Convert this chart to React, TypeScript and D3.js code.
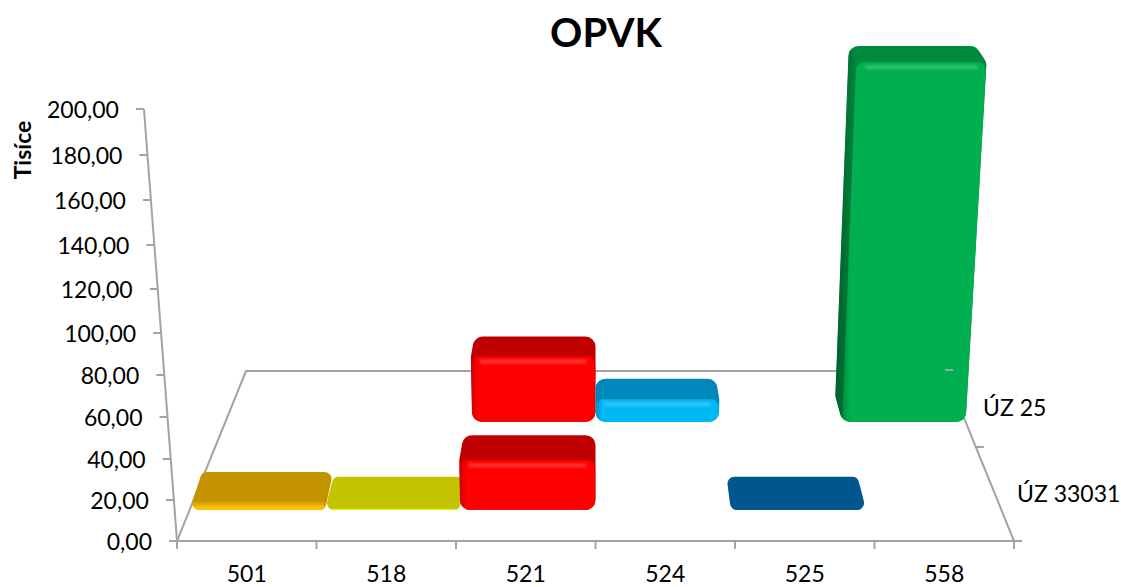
import React from 'react'
import * as d3 from 'd3'

// values in thousands
const categories = ['501', '518', '521', '524', '525', '558']
const seriesNames = ['ÚZ 33031', 'ÚZ 25']
const uz33031 = [4.5, 1, 25, null, 1, null]
const uz25 = [null, null, 36, 12.5, null, 189]
const valueTicks = [0, 20, 40, 60, 80, 100, 120, 140, 160, 180, 200]
const wallPixels = [542, 501, 460, 418, 376, 334, 290, 246, 201, 156, 110]

const front = ['#ffc000', '#e8e800', '#ff0000', '#00b8f4', '#02568f', '#00b050']
const top = ['#c49300', '#c3c300', '#c00000', '#0088bb', '#02568f', '#008a40']
const side = ['#d9a300', '#c3c300', '#c00000', '#0088bb', '#02568f', '#00602c']

const AXIS = '#a3a3a3'
const FONT = 'Lato, "Open Sans", sans-serif'
const W = 1121
const H = 587

// the fake 3d floor
const centerX = 595.5
const frontWidth = 837
const backRatio = 699 / 837
const wallY = d3.scaleLinear().domain(valueTicks).range(wallPixels)
const floorY = d3.scaleLinear().domain([0, 0.5, 1]).range([541, 447, 371])
const shrink = d3.scaleLinear().domain([541, 371]).range([1, backRatio])
const spread = d3.scaleLinear().domain([542, 110]).range([1, 1.079])
const barSpread = d3.scaleLinear().domain([542, 110]).range([1, 1.06])
const squash = d3.scaleLinear().domain([0, 10, 200]).range([1, 0.8, 0.62])
const catX = d3.scaleLinear().domain([0, categories.length]).range([-frontWidth / 2, frontWidth / 2])

type P = [number, number]

function project(c: number, d: number, v: number, sp = spread): P {
  const fy = floorY(d)
  const s = shrink(fy)
  const h = (wallY(0) - wallY(v)) * s
  return [centerX + catX(c) * s * sp(wallY(v)), fy - h]
}

// rounded polygon through d3.path
function rounded(pts: P[], r: number) {
  const p = d3.path()
  const n = pts.length
  const mid = (a: P, b: P): P => [(a[0] + b[0]) / 2, (a[1] + b[1]) / 2]
  const start = mid(pts[n - 1], pts[0])
  p.moveTo(start[0], start[1])
  pts.forEach((pt, i) => {
    const next = pts[(i + 1) % n]
    const m = mid(pt, next)
    p.arcTo(pt[0], pt[1], m[0], m[1], r)
    p.lineTo(m[0], m[1])
  })
  p.closePath()
  return p.toString()
}

function Bar({ c, row, v }: { c: number; row: number; v: number }) {
  const id = `clip${row}-${c}`
  const d1 = row * 0.5 + 0.165
  const d2 = row * 0.5 + 0.335
  const depthPx = (floorY(d1) - floorY(d2)) * squash(v)
  const fl = project(c, d1, v, barSpread)
  const fr = project(c + 1, d1, v, barSpread)
  const bl0 = project(c, d1, 0)
  const br0 = project(c + 1, d1, 0)
  const bl: P = [project(c, d2, v, barSpread)[0], fl[1] - depthPx]
  const br: P = [project(c + 1, d2, v, barSpread)[0], fr[1] - depthPx]
  const floorBackL = project(c, d2, 0)
  const h = bl0[1] - fl[1]
  const flat = h < 12
  const tall = h > 100
  const rFront = Math.min(8, h / 2)

  // only the tall bar shows its left side properly
  const outline: P[] = tall
    ? [bl, br, fr, br0, bl0, floorBackL]
    : flat
      ? [bl, br, br0, bl0]
      : [bl, br, fr, br0, bl0, fl]
  const r = flat ? 7 : 10

  return (
    <g>
      <clipPath id={id}>
        <path d={rounded(outline, r)} />
      </clipPath>
      <path d={rounded(outline, r)} fill={top[c]} />
      <g clipPath={`url(#${id})`}>
        {tall && <path d={d3.line()([bl, fl, bl0, floorBackL]) + 'Z'} fill={`url(#side${c})`} />}
        {flat ? (
          <path d={d3.line()([fl, fr, br0, bl0]) + 'Z'} fill={`url(#strip${c})`} />
        ) : (
          <path d={rounded([fl, fr, br0, bl0], rFront)} fill={`url(#front${c})`} />
        )}
        {!flat && (
          <rect
            x={fl[0] + 9}
            width={fr[0] - fl[0] - 18}
            y={fl[1] + 3}
            height={4}
            fill="#fff"
            fillOpacity={0.2}
            filter="url(#soft)"
          />
        )}
      </g>
    </g>
  )
}

export default function App() {
  const rows = [uz25, uz33031]
  const rowIndex = [1, 0]
  const textProps = { fontFamily: FONT, fontSize: 23, fill: '#000' }
  const wallTop = project(0, 0, 200)
  const wallBottom = project(0, 0, 0)
  const floor = [project(0, 0, 0), project(6, 0, 0), project(6, 1, 0), project(0, 1, 0)]
  const backCorner = project(6, 1, 0)

  return (
    <svg width={W} height={H} style={{ position: 'fixed', left: 0, top: 0, background: '#fff' }}>
      <defs>
        <filter id="soft" x="-5%" y="-200%" width="110%" height="500%">
          <feGaussianBlur stdDeviation="1.2" />
        </filter>
        {categories.map((_, i) => (
          <g key={i}>
            <linearGradient id={`front${i}`} x1="0" x2="1" y1="0" y2="0">
              <stop offset="0" stopColor={d3.color(front[i])!.darker(0.6).formatHex()} />
              <stop offset="0.06" stopColor={front[i]} />
              <stop offset="0.98" stopColor={front[i]} />
              <stop offset="1" stopColor={d3.color(front[i])!.darker(0.25).formatHex()} />
            </linearGradient>
            <linearGradient id={`strip${i}`} x1="0" x2="0" y1="0" y2="1">
              <stop offset="0" stopColor={top[i]} />
              <stop offset="0.7" stopColor={front[i]} />
            </linearGradient>
            <linearGradient id={`side${i}`} x1="0" x2="1" y1="0" y2="0">
              <stop offset="0" stopColor={side[i]} />
              <stop offset="1" stopColor={d3.color(side[i])!.brighter(0.9).formatHex()} />
            </linearGradient>
          </g>
        ))}
      </defs>

      <text x={606} y={47} textAnchor="middle" fontFamily={FONT} fontSize={40} fontWeight={700}>
        OPVK
      </text>
      <text
        transform="translate(31,150) rotate(-90)"
        textAnchor="middle"
        fontFamily={FONT}
        fontSize={23}
        fontWeight={700}
      >
        Tisíce
      </text>

      {/* floor and wall */}
      <g stroke={AXIS} strokeWidth={2} fill="none">
        <path d={d3.line()(floor) + 'Z'} />
        <line x1={wallTop[0]} y1={wallTop[1]} x2={wallBottom[0]} y2={wallBottom[1]} />
        {valueTicks.map(t => {
          const p = project(0, 0, t)
          return <line key={t} x1={p[0] - 8} x2={p[0]} y1={p[1]} y2={p[1]} />
        })}
        {d3.range(categories.length + 1).map(i => {
          const p = project(i, 0, 0)
          return <line key={i} x1={p[0]} x2={p[0]} y1={p[1]} y2={p[1] + 8} />
        })}
        {[0, 0.5].map(d => {
          const p = project(6, d, 0)
          return <line key={d} x1={p[0]} x2={p[0] + 8} y1={p[1]} y2={p[1]} />
        })}
      </g>

      {valueTicks.map(t => {
        const p = project(0, 0, t)
        return (
          <text key={t} {...textProps} x={p[0] - 25} y={p[1] + 9} textAnchor="end">
            {d3.format('.2f')(t).replace('.', ',')}
          </text>
        )
      })}
      {categories.map((name, i) => (
        <text key={name} {...textProps} x={project(i + 0.5, 0, 0)[0]} y={582} textAnchor="middle">
          {name}
        </text>
      ))}
      <text {...textProps} x={983} y={416}>{seriesNames[1]}</text>
      <text {...textProps} x={1017} y={502}>{seriesNames[0]}</text>

      {rows.map((vals, r) =>
        vals.map((v, c) => (v == null ? null : <Bar key={`${r}-${c}`} c={c} row={rowIndex[r]} v={v} />)),
      )}

      {/* this tick sits on top of the green bar in the original */}
      <line
        x1={backCorner[0]}
        x2={backCorner[0] + 8}
        y1={backCorner[1] - 1}
        y2={backCorner[1] - 1}
        stroke={AXIS}
        strokeWidth={2}
      />
    </svg>
  )
}
